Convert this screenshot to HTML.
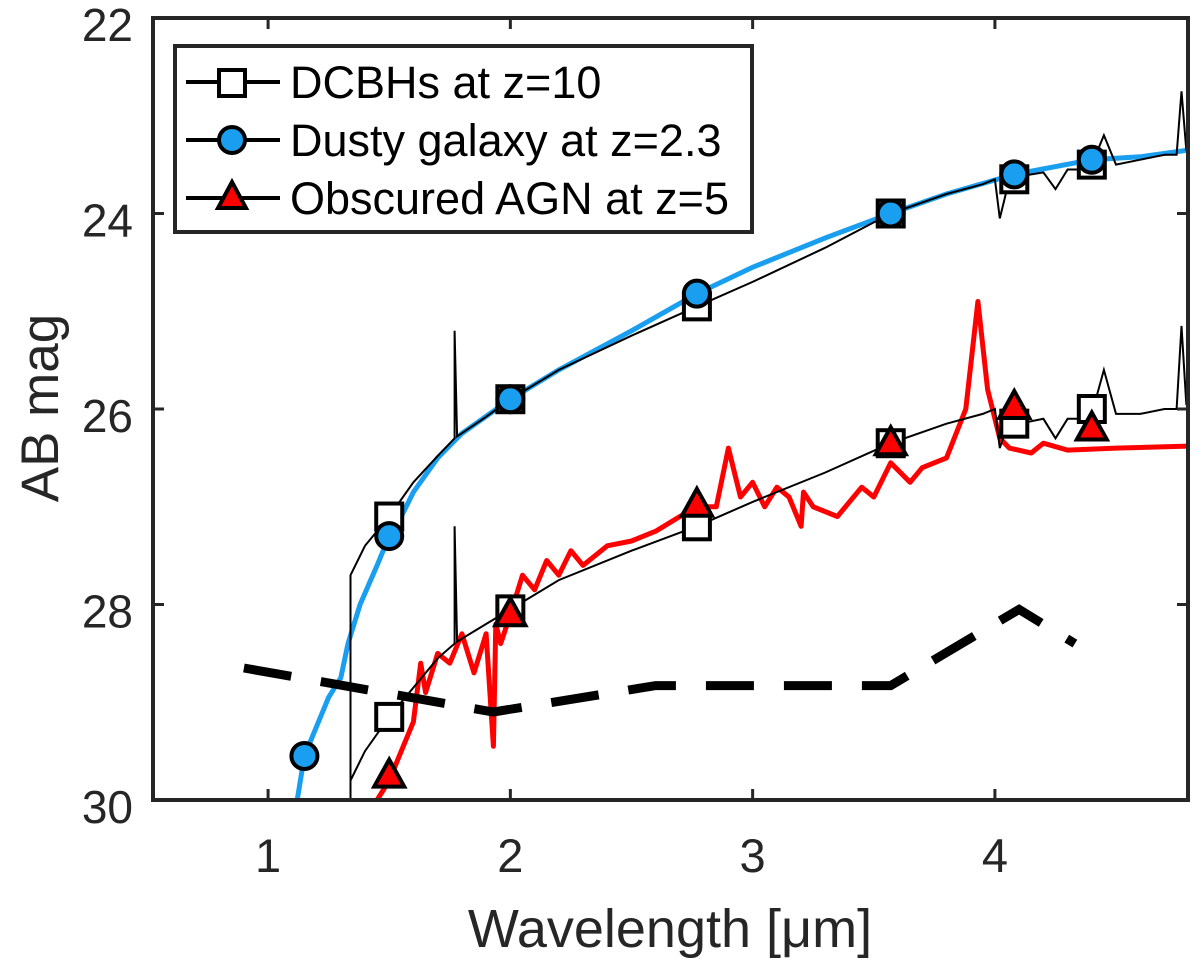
<!DOCTYPE html>
<html><head><meta charset="utf-8"><style>
body{margin:0;background:#fff;width:1200px;height:960px;overflow:hidden}
svg{display:block;font-family:"Liberation Sans",Arial,sans-serif}
</style></head><body>
<svg id="chart" width="1200" height="960"></svg>
<script>
const xTicks=[1,2,3,4];
const yTicks=[22,24,26,28,30];
const dcbhUpperX=[1.34,1.34,1.4,1.5,1.6,1.7,1.77,1.77,1.78,1.9,2,2.2,2.5,2.77,3,3.3,3.57,3.8,3.95,4.0,4.02,4.06,4.1,4.2,4.25,4.3,4.35,4.4,4.45,4.5,4.6,4.7,4.75,4.77,4.79,4.8];
const dcbhUpperY=[30,27.7,27.4,27.1,26.75,26.48,26.3,25.2,26.28,26.08,25.9,25.6,25.25,24.95,24.7,24.35,24.0,23.8,23.7,23.65,24.05,23.65,23.62,23.58,23.75,23.55,23.55,23.5,23.2,23.5,23.45,23.4,23.4,22.75,23.35,23.35];
const dcbhLowerX=[1.34,1.34,1.4,1.5,1.6,1.7,1.77,1.77,1.78,1.9,2,2.2,2.5,2.77,3,3.3,3.57,3.8,3.95,4.0,4.02,4.06,4.1,4.2,4.25,4.3,4.35,4.4,4.45,4.5,4.6,4.7,4.75,4.77,4.79,4.8];
const dcbhLowerY=[30,29.8,29.5,29.15,28.85,28.55,28.4,27.2,28.38,28.2,28.05,27.75,27.45,27.2,26.95,26.65,26.35,26.15,26.05,26.0,26.4,26.1,26.15,26.1,26.3,26.1,26.1,26.05,25.6,26.05,26.05,26.0,26.0,25.15,25.95,25.95];
const dustyX=[1.12,1.15,1.2,1.25,1.3,1.33,1.38,1.45,1.5,1.55,1.6,1.7,1.8,2,2.2,2.5,2.77,3,3.3,3.57,3.8,4.08,4.4,4.6,4.8];
const dustyY=[30,29.55,29.25,28.95,28.75,28.4,28.0,27.6,27.3,27.1,26.85,26.5,26.25,25.9,25.6,25.2,24.82,24.55,24.25,24.0,23.8,23.6,23.45,23.42,23.35];
const agnX=[1.45,1.5,1.55,1.6,1.63,1.65,1.7,1.75,1.8,1.85,1.9,1.93,1.94,1.96,2,2.05,2.1,2.15,2.2,2.25,2.3,2.4,2.5,2.6,2.7,2.77,2.85,2.9,2.95,3.0,3.05,3.1,3.15,3.2,3.21,3.25,3.35,3.45,3.5,3.57,3.65,3.7,3.8,3.88,3.93,3.97,4.02,4.06,4.15,4.2,4.3,4.5,4.8];
const agnY=[30,29.8,29.5,29.2,28.6,28.9,28.5,28.6,28.3,28.7,28.3,29.45,28.2,28.4,28.1,27.7,27.85,27.55,27.7,27.45,27.6,27.4,27.35,27.25,27.1,27.0,27.0,26.4,26.9,26.75,27.0,26.8,26.9,27.2,26.85,27.0,27.1,26.8,26.9,26.55,26.75,26.6,26.5,26.0,24.9,25.8,26.3,26.4,26.45,26.35,26.42,26.4,26.38];
const limitX=[0.9,1.93,2.6,3.57,4.1,4.33];
const limitY=[28.65,29.1,28.83,28.83,28.05,28.4];
const sqX=[1.5,2,2.77,3.57,4.08,4.4,1.5,2,2.77,3.57,4.08,4.4];
const sqY=[27.1,25.9,24.95,24.0,23.65,23.5,29.15,28.05,27.2,26.35,26.15,26.0];
const ciX=[1.15,1.5,2,2.77,3.57,4.08,4.4];
const ciY=[29.55,27.3,25.9,24.82,24.0,23.6,23.45];
const trX=[1.5,2,2.77,3.57,4.08,4.4];
const trY=[29.75,28.1,26.98,26.35,25.98,26.2];

const L=153,R=1188,T=18,B=800,X0=0.525,X1=4.797,Y0=22,Y1=30;
const sx=v=>L+(v-X0)/(X1-X0)*(R-L);
const sy=v=>T+(v-Y0)/(Y1-Y0)*(B-T);
const svg=document.getElementById('chart');
const NS='http://www.w3.org/2000/svg';
function mk(tag,attrs,parent){const e=document.createElementNS(NS,tag);for(const k in attrs)e.setAttribute(k,attrs[k]);(parent||svg).appendChild(e);return e;}
const clip=mk('clipPath',{id:'pc'});mk('rect',{x:L,y:T,width:R-L,height:B-T},clip);
const g=mk('g',{'clip-path':'url(#pc)'});


function line(xs,ys,attrs,name){const d=xs.map((x,i)=>(i?'L':'M')+sx(x).toFixed(1)+','+sy(ys[i]).toFixed(1)).join('');const p=mk('path',Object.assign({d:d,fill:'none'},attrs),g);return p;}
line(dustyX,dustyY,{stroke:'#1a9ff0','stroke-width':5},'dusty-galaxy-spectrum');
line(agnX,agnY,{stroke:'#f00','stroke-width':5,'stroke-linejoin':'round'},'obscured-agn-spectrum');
line(dcbhUpperX,dcbhUpperY,{stroke:'#000','stroke-width':2},'dcbh-upper-spectrum');
line(dcbhLowerX,dcbhLowerY,{stroke:'#000','stroke-width':2},'dcbh-lower-spectrum');
line(limitX,limitY,{stroke:'#000','stroke-width':9,'stroke-dasharray':'48,30'},'depth-limit-line');
sqX.forEach((x,i)=>{const r=mk('rect',{x:sx(x)-13,y:sy(sqY[i])-13,width:26,height:26,fill:'#fff',stroke:'#000','stroke-width':4},g);});
ciX.forEach((x,i)=>{const c=mk('circle',{cx:sx(x),cy:sy(ciY[i]),r:13,fill:'#1a9ff0',stroke:'#000','stroke-width':4},g);});
trX.forEach((x,i)=>{const cx=sx(x),cy=sy(trY[i]);const p=mk('path',{d:`M${cx},${cy-16}L${cx+15},${cy+11}L${cx-15},${cy+11}Z`,fill:'#f00',stroke:'#000','stroke-width':4,'stroke-linejoin':'miter'},g);});
const fr=mk('rect',{x:L,y:T,width:R-L,height:B-T,fill:'none',stroke:'#262626','stroke-width':4});


xTicks.forEach(v=>{mk('line',{x1:sx(v),x2:sx(v),y1:B,y2:B-11,stroke:'#262626','stroke-width':3});mk('line',{x1:sx(v),x2:sx(v),y1:T,y2:T+11,stroke:'#262626','stroke-width':3});
const t=mk('text',{x:sx(v),y:872,'text-anchor':'middle','font-size':47,fill:'#262626'});t.textContent=v;});
yTicks.forEach(v=>{mk('line',{x1:L,x2:L+11,y1:sy(v),y2:sy(v),stroke:'#262626','stroke-width':3});mk('line',{x1:R,x2:R-11,y1:sy(v),y2:sy(v),stroke:'#262626','stroke-width':3});
const t=mk('text',{x:133,y:sy(v)+23,'text-anchor':'end','font-size':46,fill:'#262626'});t.textContent=v;});
const xt=mk('text',{x:670,y:947,'text-anchor':'middle','font-size':54,fill:'#262626'});xt.textContent='Wavelength [\u03bcm]';


const yt=mk('text',{x:0,y:0,'text-anchor':'middle','font-size':53,fill:'#262626',transform:'translate(58,408) rotate(-90)'});yt.textContent='AB mag';


const lg=mk('g',{});


mk('rect',{x:175,y:46,width:577,height:186,fill:'#fff',stroke:'#262626','stroke-width':4},lg);
const entries=[['DCBHs at z=10','sq'],['Dusty galaxy at z=2.3','ci'],['Obscured AGN at z=5','tr']];
entries.forEach((e,i)=>{const y=82+i*58;const eg=mk('g',{},lg);


mk('line',{x1:186,x2:280,y1:y,y2:y,stroke:'#000','stroke-width':4},eg);
if(e[1]=='sq')mk('rect',{x:219,y:y-12,width:26,height:26,fill:'#fff',stroke:'#000','stroke-width':4},eg);
if(e[1]=='ci')mk('circle',{cx:232,cy:y,r:13,fill:'#1a9ff0',stroke:'#000','stroke-width':4},eg);
if(e[1]=='tr')mk('path',{d:`M232,${y-16}L246,${y+10}L218,${y+10}Z`,fill:'#f00',stroke:'#000','stroke-width':4},eg);
const t=mk('text',{x:290,y:y+16,'font-size':45,fill:'#000'},eg);t.textContent=e[0];});
</script>
</body></html>
